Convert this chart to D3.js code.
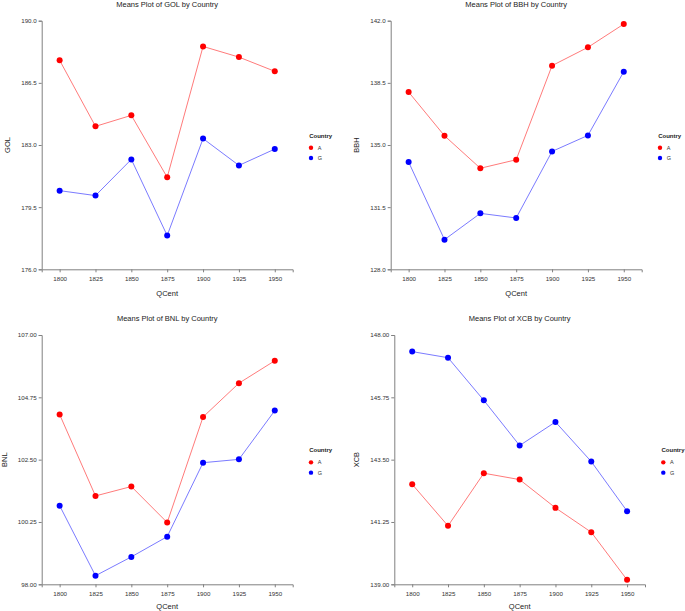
<!DOCTYPE html>
<html>
<head>
<meta charset="utf-8">
<script src="https://cdn.jsdelivr.net/npm/d3@7"></script>
<style>
  html, body { margin: 0; padding: 0; background: #fff; }
  svg { display: block; font-family: "Liberation Sans", Arial, sans-serif; }
</style>
</head>
<body>
<div id="chart"></div>
<script>
// Means plots: four measures by quarter-century and country
const qcent = ['1800', '1825', '1850', '1875', '1900', '1925', '1950'];
const countries = ['A', 'G'];

const golA = [187.77, 184.05, 184.67, 181.18, 188.55, 187.95, 187.15];
const golG = [180.43, 180.15, 182.19, 177.90, 183.36, 181.85, 182.77];
const bbhA = [137.98, 135.52, 133.69, 134.17, 139.47, 140.50, 141.81];
const bbhG = [134.04, 129.67, 131.15, 130.89, 134.64, 135.54, 139.13];
const bnlA = [104.13, 101.19, 101.53, 100.23, 104.04, 105.26, 106.07];
const bnlG = [100.84, 98.31, 98.99, 99.72, 102.39, 102.51, 104.27];
const xcbA = [142.61, 141.11, 143.01, 142.78, 141.76, 140.88, 139.16];
const xcbG = [147.40, 147.18, 145.64, 144.01, 144.86, 143.43, 141.64];

const golTicks = [176.0, 179.5, 183.0, 186.5, 190.0];
const bbhTicks = [128.0, 131.5, 135.0, 138.5, 142.0];
const bnlTicks = [98.00, 100.25, 102.50, 104.75, 107.00];
const xcbTicks = [139.00, 141.25, 143.50, 145.75, 148.00];

const width = 685, height = 611;
const pointColor = { A: '#ff0000', G: '#0000ff' };
const lineColor = { A: '#ff7b7b', G: '#7b7bff' };

// each panel: plot rectangle in page pixels
const panels = [
  { name: 'GOL', A: golA, G: golG, ticks: golTicks, fmt: '.1f', x0: 41.7, x1: 292.7, y0: 20.7, y1: 269.3, labelX: 7 },
  { name: 'BBH', A: bbhA, G: bbhG, ticks: bbhTicks, fmt: '.1f', x0: 390.7, x1: 641.7, y0: 20.7, y1: 269.3, labelX: 356 },
  { name: 'BNL', A: bnlA, G: bnlG, ticks: bnlTicks, fmt: '.2f', x0: 41.7, x1: 292.7, y0: 335, y1: 584.3, labelX: 4 },
  { name: 'XCB', A: xcbA, G: xcbG, ticks: xcbTicks, fmt: '.2f', x0: 394.3, x1: 645, y0: 335, y1: 584.3, labelX: 356 }
];

const svg = d3.select('#chart').append('svg')
  .attr('width', width)
  .attr('height', height);

const axisColor = '#808080';

panels.forEach(p => {
  const g = svg.append('g');

  const x = d3.scalePoint().domain(qcent).range([p.x0, p.x1]).padding(0.5);
  const y = d3.scaleLinear()
    .domain([p.ticks[0], p.ticks[p.ticks.length - 1]])
    .range([p.y1, p.y0]);

  // y axis
  const yAxis = g.append('g')
    .attr('transform', `translate(${p.x0},0)`)
    .call(d3.axisLeft(y).tickValues(p.ticks).tickFormat(d3.format(p.fmt)).tickSize(3).tickPadding(2));

  // x axis
  const xAxis = g.append('g')
    .attr('transform', `translate(0,${p.y1})`)
    .call(d3.axisBottom(x).tickSize(3).tickPadding(4));

  [yAxis, xAxis].forEach(ax => {
    ax.select('.domain').attr('stroke', axisColor).attr('stroke-width', 1);
    ax.selectAll('.tick line').attr('stroke', axisColor);
    ax.selectAll('.tick text').attr('fill', '#333').attr('font-size', '6.2px')
      .attr('font-family', '"Liberation Sans", Arial, sans-serif');
  });

  // title
  g.append('text')
    .attr('x', (p.x0 + p.x1) / 2)
    .attr('y', p.y0 - 14)
    .attr('text-anchor', 'middle')
    .attr('font-size', '7.5px')
    .attr('fill', '#222')
    .text(`Means Plot of ${p.name} by Country`);

  // axis titles (bottom row sits close to the page edge)
  g.append('text')
    .attr('x', (p.x0 + p.x1) / 2)
    .attr('y', Math.min(p.y1 + 26.5, height - 2.5))
    .attr('text-anchor', 'middle')
    .attr('font-size', '7.5px')
    .attr('fill', '#222')
    .text('QCent');

  g.append('text')
    .attr('transform', `translate(${p.labelX + 2.7},${(p.y0 + p.y1) / 2}) rotate(-90)`)
    .attr('text-anchor', 'middle')
    .attr('font-size', '7.5px')
    .attr('fill', '#222')
    .text(p.name);

  // series
  const line = d3.line().x((d, i) => x(qcent[i])).y(d => y(d));
  countries.forEach(c => {
    g.append('path')
      .datum(p[c])
      .attr('d', line)
      .attr('fill', 'none')
      .attr('stroke', lineColor[c])
      .attr('stroke-width', 1);

    g.selectAll(null)
      .data(p[c])
      .join('circle')
      .attr('cx', (d, i) => x(qcent[i]))
      .attr('cy', d => y(d))
      .attr('r', 3)
      .attr('fill', pointColor[c]);
  });

  // legend
  const mid = (p.y0 + p.y1) / 2;
  const lg = g.append('g').attr('transform', `translate(${p.x1 + 16.5},${mid})`);
  lg.append('text')
    .attr('x', 0).attr('y', -7.5)
    .attr('font-size', '6px')
    .attr('font-weight', 'bold')
    .attr('fill', '#222')
    .text('Country');
  countries.forEach((c, i) => {
    const cy = 2.7 + i * 10.3;
    lg.append('circle').attr('cx', 1.8).attr('cy', cy).attr('r', 2.2).attr('fill', pointColor[c]);
    lg.append('text')
      .attr('x', 8.5).attr('y', cy + 2)
      .attr('font-size', '5.5px')
      .attr('fill', '#333')
      .text(c);
  });
});
</script>
</body>
</html>
